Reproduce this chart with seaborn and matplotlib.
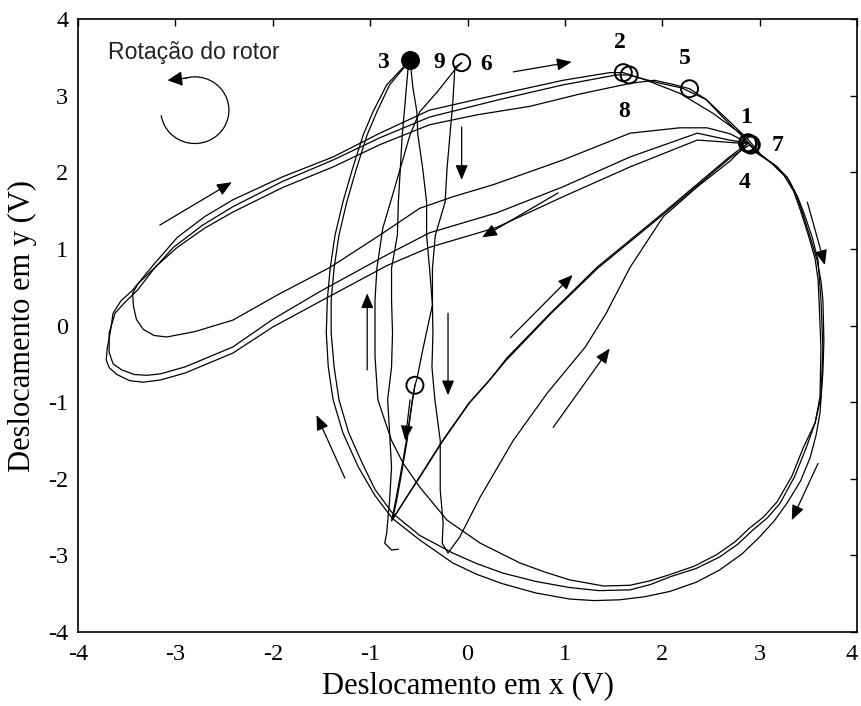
import matplotlib
matplotlib.use("Agg")
import matplotlib.pyplot as plt
import matplotlib.transforms as mtransforms
from matplotlib.patches import Arc
import numpy as np
import pandas as pd
import seaborn as sns

# ---------------- orbit traces (displacement in V) ----------------
# start of record: marked point -> down the strand -> diagonal up to point 1
start_x = [-0.54, -0.57, -0.62, -0.68, -0.73, -0.77, -0.63, -0.49, -0.25, 0.02, 0.23, 0.40, 0.85, 1.33, 2.01, 2.69, 2.88]
start_y = [-0.78, -1.00, -1.50, -1.95, -2.30, -2.53, -2.25, -1.98, -1.50, -1.01, -0.71, -0.43, 0.16, 0.76, 1.47, 2.20, 2.38]

# left loop, inner pass with the hook (1 -> 5)
left1_x = [2.88, 2.70, 2.46, 2.18, 1.67, 0.98, 0.27, -0.15, -0.49, -0.90, -1.41, -1.95, -2.41, -2.80, -3.09, -3.22, -3.33, -3.40, -3.43, -3.44, -3.38, -3.20, -2.98, -2.70, -2.41, -1.90, -1.38, -0.90, -0.39, 0.10, 0.64, 1.15, 1.67, 1.92, 2.10, 2.28]
left1_y = [2.38, 2.50, 2.58, 2.58, 2.51, 2.16, 1.84, 1.68, 1.53, 1.18, 0.76, 0.40, 0.07, -0.08, -0.15, -0.13, -0.05, 0.08, 0.25, 0.42, 0.55, 0.77, 1.02, 1.27, 1.48, 1.80, 2.07, 2.36, 2.62, 2.75, 2.86, 3.02, 3.16, 3.20, 3.15, 3.09]

# left loop, middle pass (4 -> 8)
left2_x = [2.88, 2.69, 2.36, 1.67, 0.98, 0.30, -0.39, -0.83, -1.52, -2.00, -2.41, -2.90, -3.15, -3.29, -3.42, -3.55, -3.64, -3.68, -3.68, -3.62, -3.52, -3.39, -3.22, -3.02, -2.72, -2.41, -1.90, -1.38, -0.90, -0.39, 0.30, 0.98, 1.53, 1.65]
left2_y = [2.38, 2.42, 2.51, 2.20, 1.81, 1.47, 1.21, 0.92, 0.44, 0.08, -0.28, -0.54, -0.63, -0.65, -0.64, -0.58, -0.50, -0.35, -0.10, 0.16, 0.30, 0.46, 0.74, 1.02, 1.31, 1.55, 1.88, 2.16, 2.45, 2.72, 2.94, 3.14, 3.27, 3.27]

# left loop, outer pass (7 -> 2)
left3_x = [2.88, 2.80, 2.36, 1.67, 0.98, 0.30, -0.39, -0.83, -1.52, -2.00, -2.41, -2.90, -3.15, -3.33, -3.47, -3.60, -3.68, -3.71, -3.70, -3.67, -3.64, -3.56, -3.44, -3.22, -2.98, -2.70, -2.41, -1.90, -1.38, -0.90, -0.39, 0.30, 0.98, 1.46, 1.60]
left3_y = [2.38, 2.38, 2.42, 2.07, 1.68, 1.28, 1.02, 0.78, 0.31, -0.02, -0.36, -0.62, -0.71, -0.74, -0.72, -0.64, -0.55, -0.45, -0.30, -0.10, 0.16, 0.32, 0.46, 0.80, 1.15, 1.42, 1.64, 1.94, 2.20, 2.51, 2.81, 3.01, 3.20, 3.30, 3.30]

# big loop, outer pass (2 -> 3)
big1_x = [1.60, 1.84, 2.18, 2.52, 2.80, 2.97, 3.15, 3.28, 3.37, 3.44, 3.52, 3.59, 3.63, 3.65, 3.66, 3.65, 3.62, 3.58, 3.52, 3.42, 3.28, 3.15, 3.00, 2.82, 2.59, 2.35, 2.08, 1.82, 1.56, 1.30, 1.05, 0.70, 0.36, 0.10, -0.15, -0.49, -0.77, -0.95, -1.12, -1.28, -1.38, -1.43, -1.45, -1.44, -1.41, -1.36, -1.28, -1.18, -1.07, -0.97, -0.83, -0.66, -0.59]
big1_y = [3.30, 3.20, 3.03, 2.77, 2.51, 2.25, 2.10, 1.94, 1.72, 1.47, 1.15, 0.85, 0.58, 0.33, -0.20, -0.60, -1.14, -1.43, -1.72, -2.03, -2.32, -2.55, -2.76, -2.98, -3.19, -3.35, -3.47, -3.54, -3.58, -3.59, -3.57, -3.49, -3.37, -3.25, -3.10, -2.80, -2.52, -2.22, -1.85, -1.40, -0.97, -0.54, -0.10, 0.33, 0.75, 1.18, 1.61, 2.05, 2.49, 2.79, 3.14, 3.37, 3.46]

# big loop, middle pass (8 -> 9)
big2_x = [1.65, 1.95, 2.20, 2.45, 2.66, 2.88, 3.02, 3.18, 3.30, 3.39, 3.46, 3.54, 3.60, 3.63, 3.65, 3.63, 3.57, 3.48, 3.36, 3.21, 3.08, 2.93, 2.78, 2.59, 2.35, 2.08, 1.88, 1.67, 1.35, 1.05, 0.70, 0.36, 0.10, -0.15, -0.49, -0.77, -0.95, -1.08, -1.22, -1.32, -1.37, -1.40, -1.40, -1.37, -1.32, -1.24, -1.14, -1.03, -0.93, -0.80, -0.65, -0.58]
big2_y = [3.27, 3.17, 3.10, 2.95, 2.70, 2.43, 2.22, 2.07, 1.90, 1.68, 1.45, 1.15, 0.85, 0.33, -0.30, -0.93, -1.27, -1.59, -1.97, -2.32, -2.51, -2.67, -2.85, -3.02, -3.17, -3.28, -3.38, -3.45, -3.46, -3.42, -3.34, -3.23, -3.11, -2.97, -2.74, -2.45, -2.14, -1.80, -1.40, -0.97, -0.54, -0.10, 0.33, 0.75, 1.18, 1.61, 2.05, 2.49, 2.79, 3.14, 3.37, 3.47]

# big loop, inner pass (5 -> 6)
big3_x = [2.28, 2.45, 2.62, 2.83, 2.97, 3.12, 3.25, 3.35, 3.42, 3.50, 3.57, 3.60, 3.61, 3.63, 3.62, 3.57, 3.45, 3.33, 3.18, 3.04, 2.90, 2.75, 2.56, 2.33, 2.08, 1.88, 1.67, 1.40, 1.05, 0.80, 0.54, 0.13, -0.21, -0.49, -0.66, -0.78, -0.86, -0.92, -0.95, -0.95, -0.93, -0.87, -0.77, -0.69, -0.59, -0.49, -0.31, -0.11, -0.06]
big3_y = [3.09, 2.95, 2.72, 2.46, 2.27, 2.12, 1.96, 1.75, 1.50, 1.18, 0.87, 0.60, 0.33, -0.30, -0.93, -1.27, -1.59, -1.97, -2.30, -2.50, -2.64, -2.82, -2.99, -3.14, -3.25, -3.33, -3.39, -3.40, -3.32, -3.22, -3.10, -2.84, -2.54, -2.11, -1.80, -1.50, -1.20, -0.97, -0.40, 0.33, 0.75, 1.27, 1.70, 2.05, 2.49, 2.79, 3.05, 3.37, 3.43]

# descending strand from 3, kink at the bottom, thin diagonal up to 4
drop1_x = [-0.59, -0.56, -0.52, -0.51, -0.46, -0.42, -0.42, -0.39, -0.36, -0.355, -0.365, -0.335, -0.28, -0.28, -0.25, -0.26, -0.20, -0.08, 0.13, 0.47, 0.82, 1.21, 1.42, 1.67, 2.01, 2.36, 2.70, 2.88]
drop1_y = [3.46, 3.10, 2.79, 2.49, 2.05, 1.61, 1.18, 0.75, 0.27, -0.10, -0.54, -0.97, -1.50, -2.15, -2.58, -2.84, -2.97, -2.76, -2.24, -1.50, -0.88, -0.28, 0.15, 0.76, 1.42, 1.81, 2.15, 2.38]

# descending strand from 6 through the marked point, diagonal up to 7
drop2_x = [-0.06, -0.13, -0.15, -0.18, -0.21, -0.23, -0.33, -0.36, -0.36, -0.46, -0.52, -0.54, -0.57, -0.63, -0.69, -0.74, -0.78, -0.64, -0.50, -0.26, 0.01, 0.22, 0.40, 0.86, 1.34, 2.02, 2.70, 2.90]
drop2_y = [3.43, 3.37, 2.92, 2.49, 2.05, 1.61, 1.18, 0.75, 0.27, -0.32, -0.70, -0.78, -1.02, -1.52, -1.96, -2.30, -2.55, -2.27, -1.99, -1.51, -1.02, -0.72, -0.45, 0.16, 0.75, 1.46, 2.19, 2.36]

# last strand from 9 down to the end of the record
drop3_x = [-0.59, -0.61, -0.64, -0.67, -0.69, -0.71, -0.72, -0.78, -0.78, -0.77, -0.78, -0.82, -0.80, -0.78, -0.80, -0.83, -0.85, -0.78, -0.71]
drop3_y = [3.46, 3.36, 2.92, 2.49, 2.05, 1.61, 1.18, 0.75, 0.33, -0.10, -0.54, -0.97, -1.40, -1.85, -2.28, -2.71, -2.84, -2.93, -2.92]

# sampled positions (once per revolution) and their labels
ring_x = [1.60, 1.66, 2.28, -0.06, -0.54]
ring_y = [3.30, 3.27, 3.09, 3.43, -0.78]
heavy_ring_x = [2.88, 2.91]
heavy_ring_y = [2.38, 2.36]
bold_x = [-0.59]
bold_y = [3.46]
label_text = ["1", "7", "4", "2", "5", "8", "3", "9", "6"]
label_x = [2.86, 3.18, 2.85, 1.56, 2.23, 1.61, -0.87, -0.29, 0.19]
label_y = [2.75, 2.38, 1.90, 3.73, 3.52, 2.83, 3.46, 3.46, 3.44]

# direction-of-motion arrows: start and end points
arrow_x0 = [0.47, -0.06, 0.93, 3.49, -3.16, -1.03, -0.20, -0.59, -1.26, 0.44, 0.88, 3.60]
arrow_y0 = [3.31, 2.59, 1.73, 1.61, 1.31, -0.58, 0.16, -0.97, -1.99, -0.16, -1.33, -1.80]
arrow_x1 = [1.07, -0.06, 0.15, 3.67, -2.42, -1.03, -0.20, -0.64, -1.55, 1.08, 1.46, 3.33]
arrow_y1 = [3.44, 1.90, 1.15, 0.79, 1.87, 0.42, -0.91, -1.50, -1.17, 0.66, -0.30, -2.54]

ticks = [-4, -3, -2, -1, 0, 1, 2, 3, 4]

# ---------------- styling ----------------
sns.set_theme(style="white")
plt.rcParams["font.family"] = ["Liberation Serif", "DejaVu Serif"]
plt.rcParams["axes.unicode_minus"] = False
plt.rcParams["text.color"] = "black"
plt.rcParams["axes.labelcolor"] = "black"
plt.rcParams["xtick.color"] = "black"
plt.rcParams["ytick.color"] = "black"

fig = plt.figure(figsize=(8.61, 7.06), dpi=100)
ax = fig.add_axes([78 / 861, 1 - 632 / 706, (857 - 78) / 861, (632 - 19) / 706])

traces = {
    "start": (start_x, start_y),
    "left1": (left1_x, left1_y),
    "left2": (left2_x, left2_y),
    "left3": (left3_x, left3_y),
    "big1": (big1_x, big1_y),
    "big2": (big2_x, big2_y),
    "big3": (big3_x, big3_y),
    "drop1": (drop1_x, drop1_y),
    "drop2": (drop2_x, drop2_y),
    "drop3": (drop3_x, drop3_y),
}
rows = []
for name, (xs, ys) in traces.items():
    for i, (xv, yv) in enumerate(zip(xs, ys)):
        rows.append({"curve": name, "order": i, "x": xv, "y": yv})
df = pd.DataFrame(rows)

sns.lineplot(data=df, x="x", y="y", units="curve", estimator=None, sort=False,
             color="black", linewidth=0.9, legend=False, ax=ax)

sns.scatterplot(x=ring_x, y=ring_y, marker="o", s=150, facecolor="none",
                edgecolor="black", linewidth=1.4, ax=ax, zorder=5)
sns.scatterplot(x=heavy_ring_x, y=heavy_ring_y, marker="o", s=150, facecolor="none",
                edgecolor="black", linewidth=2.0, ax=ax, zorder=5)
sns.scatterplot(x=bold_x, y=bold_y, marker="o", s=150, color="black",
                edgecolor="black", linewidth=1.4, ax=ax, zorder=5)

for t, xv, yv in zip(label_text, label_x, label_y):
    ax.text(xv, yv, t, ha="center", va="center_baseline", fontsize=17,
            fontweight="bold", family=["Liberation Serif"])

for x0, y0, x1, y1 in zip(arrow_x0, arrow_y0, arrow_x1, arrow_y1):
    ax.annotate("", xy=(x1, y1), xytext=(x0, y0),
                arrowprops=dict(arrowstyle="-|>,head_length=0.6,head_width=0.25",
                                color="black", lw=0.9, mutation_scale=15,
                                shrinkA=0, shrinkB=0))

# rotor rotation symbol
ax.text(-3.69, 3.48, "Rotação do rotor", ha="left", va="baseline", fontsize=16.6,
        family=["Liberation Sans"], color="#222222")
ax.add_patch(Arc((-2.80, 2.81), 0.70, 0.87, theta1=-169, theta2=104,
                 color="black", lw=0.9))
ax.annotate("", xy=(-3.08, 3.20), xytext=(-2.88, 3.23),
            arrowprops=dict(arrowstyle="-|>,head_length=0.6,head_width=0.3",
                            color="black", lw=0.9, mutation_scale=15,
                            shrinkA=0, shrinkB=0))

ax.set_xlim(-4, 4)
ax.set_ylim(-4, 4)
ax.set_xticks(ticks)
ax.set_yticks(ticks)
ax.set_xticklabels([str(t) for t in ticks])
ax.set_yticklabels([str(t) for t in ticks])
ax.tick_params(direction="in", length=5, width=1, top=True, right=True,
               labelsize=17.5, color="black")
ax.tick_params(axis="x", pad=9)
ax.tick_params(axis="y", pad=7)
for s in ax.spines.values():
    s.set_color("black")
    s.set_linewidth(1.2)

# keep the last x tick label inside the canvas
last = ax.get_xticklabels()[-1]
last.set_transform(last.get_transform() +
                   mtransforms.ScaledTranslation(-4 / 72, 0, fig.dpi_scale_trans))

ax.set_xlabel("Deslocamento em x (V)", fontsize=22, va="center")
ax.set_ylabel("Deslocamento em y (V)", fontsize=22, va="center")
ax.xaxis.set_label_coords(0.5, (632 - 686) / 613)
ax.yaxis.set_label_coords((22 - 78) / 779, 0.5)
ax.grid(False)

fig.savefig("out.png", dpi=100)
